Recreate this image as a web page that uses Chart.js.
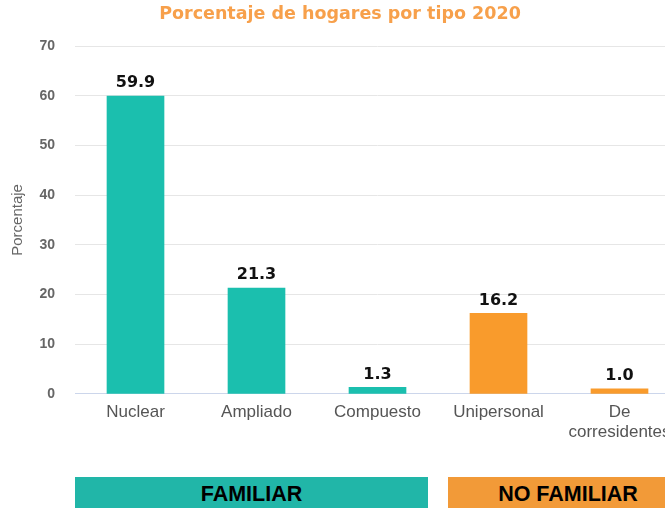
<!DOCTYPE html>
<html>
<head>
<meta charset="utf-8">
<script src="https://cdn.jsdelivr.net/npm/chart.js@4/dist/chart.umd.min.js"></script>
<style>
    html, body { margin: 0; padding: 0; background: #fff; overflow: hidden; }
    #wrap { position: relative; width: 665px; height: 508px; overflow: hidden; }
    #chartBox { position: absolute; left: 0; top: 0; width: 680px; height: 443px; }
    .group {
        position: absolute; top: 477px; height: 36px;
        font: bold 21.5px "Liberation Sans", Arial, sans-serif; color: #000;
        text-align: center; line-height: 34px;
    }
</style>
</head>
<body>
<div id="wrap">
    <div id="chartBox"><canvas id="hogaresChart"></canvas></div>
    <div class="group" id="grpFam" style="left:75px; width:353px; background:#21b6a8;"></div>
    <div class="group" id="grpNoFam" style="left:448px; width:240px; background:#f29a38;"></div>
</div>
<script>
// datos
const categorias = ['Nuclear', 'Ampliado', 'Compuesto', 'Unipersonal', ['De', 'corresidentes']];
const porcentajes = [59.9, 21.3, 1.3, 16.2, 1.0];
const tipoHogar = ['familiar', 'familiar', 'familiar', 'nofamiliar', 'nofamiliar'];
const ticksY = [0, 10, 20, 30, 40, 50, 60, 70];
const grupos = ['FAMILIAR', 'NO FAMILIAR'];

document.getElementById('grpFam').textContent = grupos[0];
document.getElementById('grpNoFam').textContent = grupos[1];

const colores = { familiar: '#1bbfae', nofamiliar: '#f99b2c' };

// etiquetas sobre las barras
const valueLabels = {
    id: 'valueLabels',
    afterDatasetsDraw(chart) {
        const ctx = chart.ctx;
        const meta = chart.getDatasetMeta(0);
        ctx.save();
        ctx.font = 'bold 16px Verdana, "DejaVu Sans", sans-serif';
        ctx.fillStyle = '#111';
        ctx.textAlign = 'center';
        ctx.textBaseline = 'bottom';
        meta.data.forEach(function (bar, i) {
            ctx.fillText(porcentajes[i].toFixed(1), bar.x, bar.y - 5);
        });
        ctx.restore();
    }
};

const ctx = document.getElementById('hogaresChart').getContext('2d');
new Chart(ctx, {
    type: 'bar',
    data: {
        labels: categorias,
        datasets: [{
            label: 'Porcentaje',
            data: porcentajes,
            backgroundColor: tipoHogar.map(t => colores[t]),
            borderWidth: 0,
            barThickness: 57
        }]
    },
    options: {
        responsive: true,
        maintainAspectRatio: false,
        animation: false,
        layout: { padding: { left: 0, right: 0, top: 4, bottom: 0 } },
        plugins: {
            legend: { display: false },
            tooltip: { enabled: false },
            title: {
                display: true,
                text: 'Porcentaje de hogares por tipo 2020',
                color: '#f7a04b',
                font: { family: 'Verdana, "DejaVu Sans", sans-serif', size: 17.5, weight: 'bold' },
                padding: { top: 0, bottom: 21 }
            }
        },
        scales: {
            x: {
                grid: { display: false },
                border: { display: true, color: '#ccd6eb', width: 1 },
                ticks: {
                    color: '#555',
                    font: { family: '"Liberation Sans", Arial, sans-serif', size: 17, lineHeight: 1.15 },
                    padding: 1,
                    maxRotation: 0,
                    autoSkip: false
                }
            },
            y: {
                min: 0,
                max: 70,
                afterBuildTicks: function (axis) {
                    axis.ticks = ticksY.map(v => ({ value: v }));
                },
                afterFit: function (axis) {
                    axis.width = 75;
                },
                grid: { color: '#e6e6e6', drawTicks: false },
                border: { display: false },
                ticks: {
                    color: '#666',
                    font: { family: '"Liberation Sans", Arial, sans-serif', size: 14, weight: 'bold' },
                    padding: 20
                },
                title: {
                    display: true,
                    text: 'Porcentaje',
                    color: '#666',
                    font: { family: '"Liberation Sans", Arial, sans-serif', size: 15 },
                    padding: { top: 9, bottom: 0 }
                }
            }
        }
    },
    plugins: [valueLabels]
});
</script>
</body>
</html>
